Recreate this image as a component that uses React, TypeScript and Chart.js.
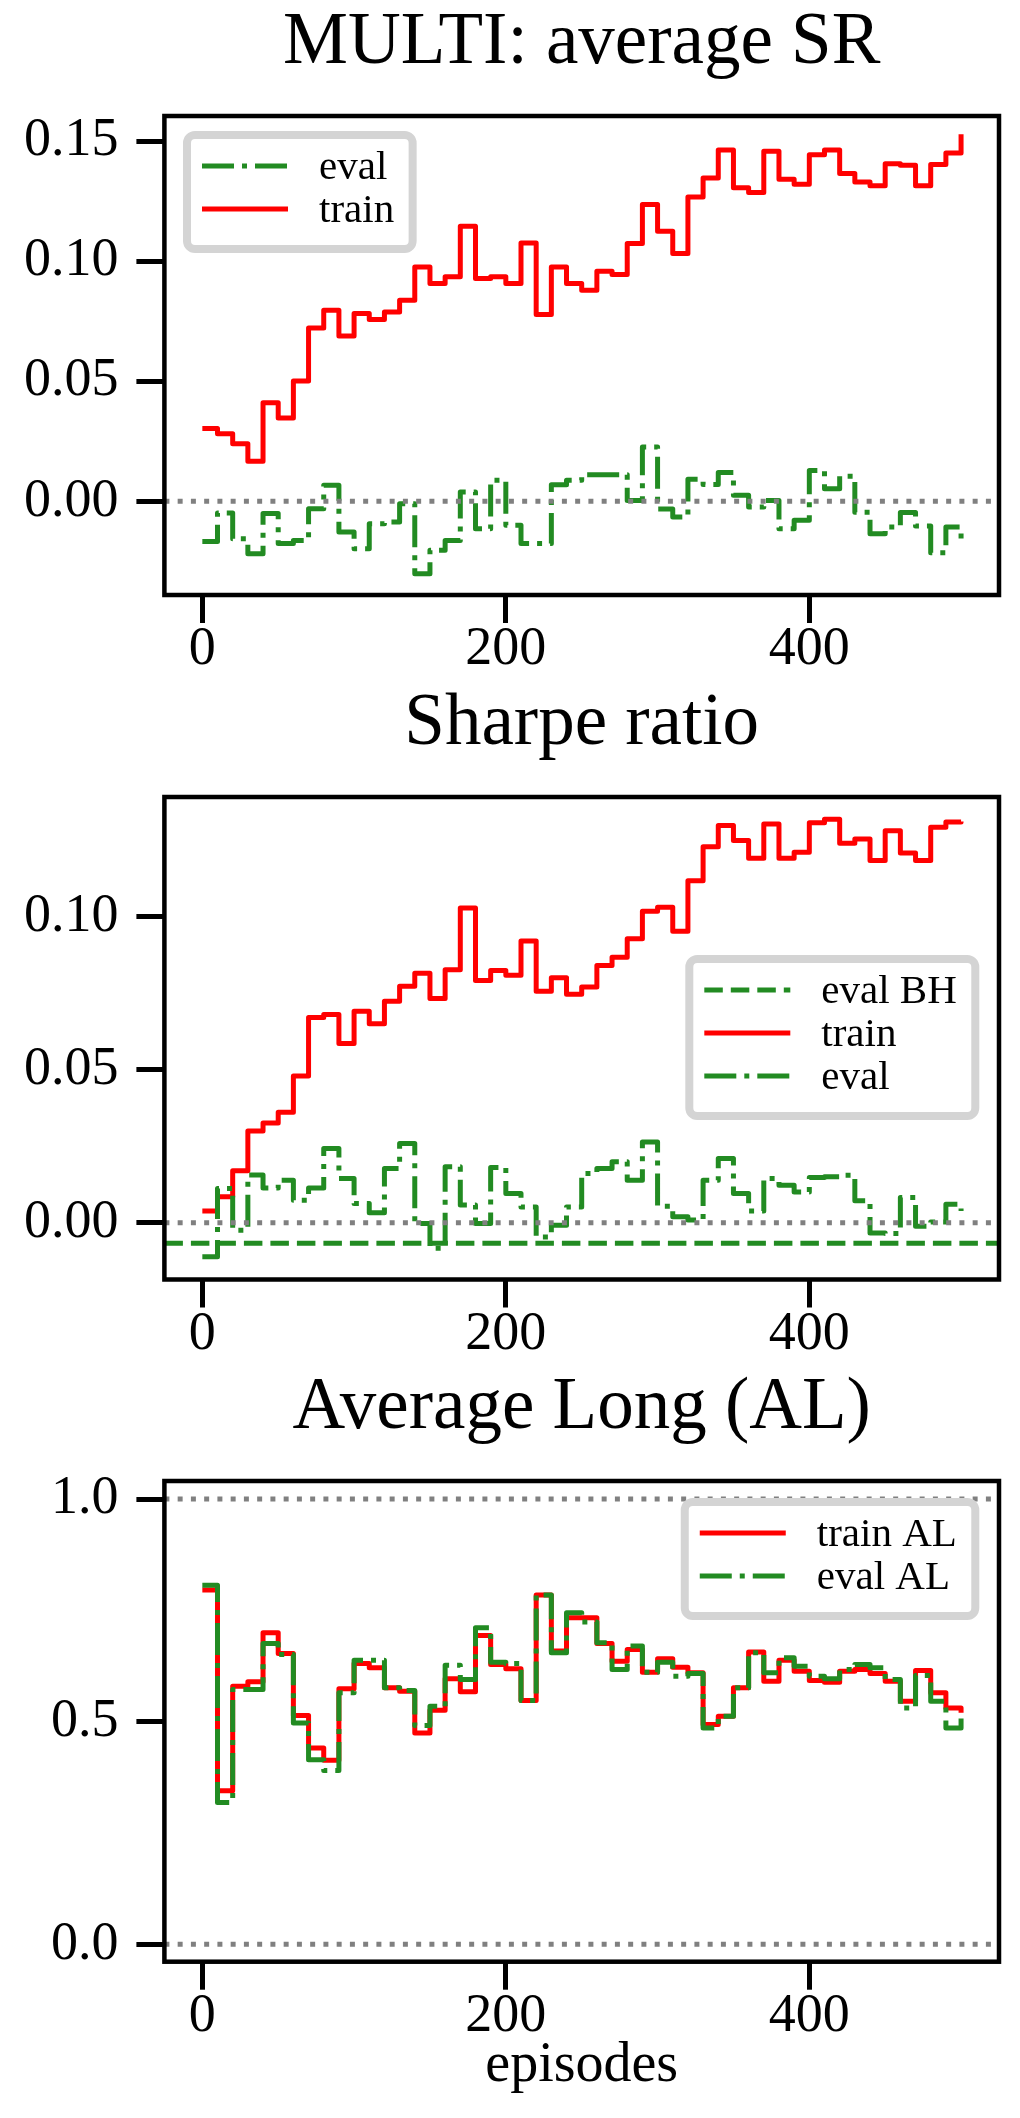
import React, { useEffect, useRef } from "react";
import { Chart, registerables } from "chart.js";

Chart.register(...registerables);

// ---------------- data ----------------
const EPISODES = [
  0, 10, 20, 30, 40, 50, 60, 70, 80, 90, 100, 110, 120, 130, 140, 150, 160, 170, 180, 190, 200,
  210, 220, 230, 240, 250, 260, 270, 280, 290, 300, 310, 320, 330, 340, 350, 360, 370, 380, 390,
  400, 410, 420, 430, 440, 450, 460, 470, 480, 490, 500,
];
const X_LIMITS = [-25, 525];
const X_TICKS = [0, 200, 400];
const X_TICK_LABELS = ["0", "200", "400"];

const TITLE_1 = "MULTI: average SR";
const TITLE_2 = "Sharpe ratio";
const TITLE_3 = "Average Long (AL)";
const X_TITLE_3 = "episodes";

const Y_TICKS_1 = [0, 0.05, 0.1, 0.15];
const Y_LABELS_1 = ["0.00", "0.05", "0.10", "0.15"];
const Y_TICKS_2 = [0, 0.05, 0.1];
const Y_LABELS_2 = ["0.00", "0.05", "0.10"];
const Y_TICKS_3 = [0, 0.5, 1.0];
const Y_LABELS_3 = ["0.0", "0.5", "1.0"];

const P1_TRAIN = [
  0.0303, 0.0282, 0.024, 0.0167, 0.0411, 0.0347, 0.0501, 0.0722, 0.0796, 0.0689, 0.0782, 0.0757,
  0.0789, 0.0838, 0.0976, 0.0907, 0.0935, 0.1146, 0.0928, 0.0935, 0.0907, 0.1076, 0.0778, 0.0976,
  0.0907, 0.0879, 0.0958, 0.0945, 0.1074, 0.1236, 0.1125, 0.1032, 0.1268, 0.1347, 0.1463, 0.1306,
  0.1286, 0.1458, 0.1342, 0.1321, 0.1444, 0.1463, 0.1365, 0.133, 0.1315, 0.1406, 0.14, 0.1315,
  0.1403, 0.1451, 0.1529,
];
const P1_EVAL = [
  -0.0167, -0.0048, -0.0156, -0.0218, -0.0051, -0.0176, -0.0163, -0.0031, 0.0067, -0.0128, -0.0197,
  -0.0093, -0.0086, -0.001, -0.0301, -0.0204, -0.0163, 0.0039, -0.0114, 0.0088, -0.01, -0.0176,
  -0.0176, 0.0069, 0.0088, 0.0111, 0.0111, 0.0111, 0.0004, 0.0226, -0.0032, -0.0065, 0.0092, 0.007,
  0.012, 0.0025, -0.0024, 0.0004, -0.0114, -0.0079, 0.0129, 0.0053, 0.0105, -0.0045, -0.0135,
  -0.0107, -0.0046, -0.0103, -0.0214, -0.0107, -0.0156,
];

const P2_TRAIN = [
  0.0039, 0.0085, 0.017, 0.03, 0.0326, 0.0361, 0.0479, 0.067, 0.068, 0.0585, 0.0691, 0.065, 0.0723,
  0.0772, 0.0815, 0.0732, 0.0826, 0.1028, 0.0791, 0.0824, 0.0808, 0.092, 0.0756, 0.08, 0.0746,
  0.077, 0.084, 0.0867, 0.0927, 0.1017, 0.103, 0.0952, 0.1117, 0.1228, 0.1297, 0.1248, 0.119,
  0.1302, 0.119, 0.121, 0.1306, 0.1317, 0.1239, 0.1253, 0.1183, 0.128, 0.1207, 0.1183, 0.1291,
  0.1308, 0.131,
];
const P2_EVAL = [
  -0.0111, 0.0112, -0.0024, 0.0156, 0.0114, 0.0139, 0.0074, 0.0114, 0.0243, 0.0145, 0.0063, 0.0033,
  0.0177, 0.0259, -0.0002, -0.0083, 0.0183, 0.0058, -0.0002, 0.0181, 0.0096, 0.0052, -0.0046,
  -0.0008, 0.0052, 0.0161, 0.0177, 0.0199, 0.0139, 0.0264, 0.0054, 0.002, 0.0009, 0.0139, 0.021,
  0.0096, 0.0039, 0.0145, 0.0123, 0.0101, 0.0148, 0.015, 0.0155, 0.0072, -0.0033, -0.0035, 0.0083,
  -0.0011, 0.0003, 0.0061, 0.0039,
];
const P2_EVAL_BH = -0.0067;

const P3_TRAIN = [
  0.7957, 0.345, 0.5797, 0.5895, 0.6998, 0.6532, 0.5137, 0.441, 0.4132, 0.5738, 0.6307, 0.621,
  0.576, 0.5685, 0.4748, 0.5257, 0.5963, 0.567, 0.6937, 0.6285, 0.6188, 0.5475, 0.7845, 0.6585,
  0.7335, 0.7335, 0.6758, 0.6359, 0.6623, 0.6112, 0.6412, 0.6225, 0.6097, 0.4935, 0.5123, 0.576,
  0.6563, 0.591, 0.6382, 0.6135, 0.5925, 0.5888, 0.6135, 0.6172, 0.6082, 0.591, 0.546, 0.615,
  0.5648, 0.531, 0.5198,
];
const P3_EVAL = [
  0.8063, 0.3187, 0.5722, 0.5722, 0.6757, 0.651, 0.4973, 0.4147, 0.3906, 0.5648, 0.6382, 0.6382,
  0.576, 0.57, 0.4912, 0.5347, 0.627, 0.5947, 0.711, 0.6337, 0.6307, 0.5475, 0.7845, 0.6548,
  0.7448, 0.7237, 0.6773, 0.6172, 0.6698, 0.6112, 0.6337, 0.6022, 0.6082, 0.486, 0.5123, 0.576,
  0.6548, 0.6097, 0.6435, 0.6247, 0.6022, 0.5963, 0.6172, 0.6285, 0.621, 0.5948, 0.531, 0.6037,
  0.546, 0.486, 0.5123,
];
const P3_HLINES = [0, 1];

// ---------------- styles ----------------
const FONT = '"Liberation Serif", "Times New Roman", serif';
const RED = "#ff0000";
const GREEN = "#228b22";
const GRAY = "#808080";
const DASHDOT = [32, 8, 5, 8];
const DASHED = [18.5, 8];
const DOTTED = [5, 8.25];
const LW = 5;

const steps = (vals: number[]) => EPISODES.map((x, i) => ({ x, y: vals[i] }));
const hline = (v: number) => X_LIMITS.map((x) => ({ x, y: v }));

const lineDs = (label: string, data: any[], color: string, dash: number[], order: number, stepped: any) => ({
  label,
  data,
  borderColor: color,
  backgroundColor: color,
  borderWidth: LW,
  borderDash: dash,
  borderCapStyle: "butt",
  borderJoinStyle: "round",
  pointRadius: 0,
  pointHoverRadius: 0,
  fill: false,
  tension: 0,
  stepped,
  order,
});

const PANELS = [
  {
    top: 0,
    height: 681,
    xAxisH: 86,
    title: TITLE_1,
    xTitle: "",
    yMin: -0.039,
    yMax: 0.1605,
    yTicks: Y_TICKS_1,
    yLabels: Y_LABELS_1,
    datasets: [
      lineDs("eval", steps(P1_EVAL), GREEN, DASHDOT, 2, "before"),
      lineDs("train", steps(P1_TRAIN), RED, [], 1, "before"),
      lineDs("zero", hline(0), GRAY, DOTTED, 0, false),
    ],
    legend: { labels: ["eval", "train"], anchor: "left", dx: 18.6, dy: 15 },
  },
  {
    top: 681,
    height: 684,
    xAxisH: 85.5,
    title: TITLE_2,
    xTitle: "",
    yMin: -0.0185,
    yMax: 0.139,
    yTicks: Y_TICKS_2,
    yLabels: Y_LABELS_2,
    datasets: [
      lineDs("eval BH", hline(P2_EVAL_BH), GREEN, DASHED, 3, false),
      lineDs("train", steps(P2_TRAIN), RED, [], 2, "before"),
      lineDs("eval", steps(P2_EVAL), GREEN, DASHDOT, 1, "before"),
      lineDs("zero", hline(0), GRAY, DOTTED, 0, false),
    ],
    legend: { labels: ["eval BH", "train", "eval"], anchor: "right", dx: 19.7, dy: 158 },
  },
  {
    top: 1365,
    height: 753,
    xAxisH: 156.3,
    title: TITLE_3,
    xTitle: X_TITLE_3,
    yMin: -0.039,
    yMax: 1.0405,
    yTicks: Y_TICKS_3,
    yLabels: Y_LABELS_3,
    datasets: [
      lineDs("train AL", steps(P3_TRAIN), RED, [], 2, "before"),
      lineDs("eval AL", steps(P3_EVAL), GREEN, DASHDOT, 1, "before"),
      lineDs("zero", hline(P3_HLINES[0]), GRAY, DOTTED, 0, false),
      lineDs("one", hline(P3_HLINES[1]), GRAY, DOTTED, 0, false),
    ],
    legend: { labels: ["train AL", "eval AL"], anchor: "right", dx: 19.7, dy: 17 },
  },
];

// ---------------- plugin: axes frame + legend box ----------------
const frameLegendPlugin = {
  id: "frameLegend",
  afterDatasetsDraw(chart: any, _args: any, opts: any) {
    const { ctx, chartArea: a } = chart;
    ctx.save();
    ctx.setLineDash([]);
    ctx.strokeStyle = "#000000";
    ctx.lineWidth = 4.5;
    ctx.strokeRect(a.left, a.top, a.right - a.left, a.bottom - a.top);

    const labels: string[] = opts.labels || [];
    if (labels.length) {
      const items = labels.map((lab) => {
        const ds = chart.data.datasets.find((d: any) => d.label === lab);
        return { label: lab, color: ds.borderColor, dash: ds.borderDash || [] };
      });
      ctx.font = `41px ${FONT}`;
      const textW = Math.max(...items.map((it) => ctx.measureText(it.label).width));
      const w = 136 + textW + 22.5;
      const h = 48.3 + 43 * (items.length - 1) + 30.7;
      const x = opts.anchor === "left" ? a.left + opts.dx : a.right - opts.dx - w;
      const y = a.top + opts.dy;
      ctx.beginPath();
      ctx.roundRect(x + 4, y + 4, w - 8, h - 8, 8);
      ctx.fillStyle = "#ffffff";
      ctx.fill();
      ctx.lineWidth = 8;
      ctx.strokeStyle = "#d4d4d4";
      ctx.stroke();
      items.forEach((it, i) => {
        const base = y + 48.3 + 43 * i;
        ctx.beginPath();
        ctx.setLineDash(it.dash);
        ctx.lineWidth = LW;
        ctx.lineCap = "butt";
        ctx.strokeStyle = it.color;
        ctx.moveTo(x + 19, base - 13.3);
        ctx.lineTo(x + 105, base - 13.3);
        ctx.stroke();
        ctx.setLineDash([]);
        ctx.fillStyle = "#000000";
        ctx.textAlign = "left";
        ctx.textBaseline = "alphabetic";
        ctx.fillText(it.label, x + 136, base);
      });
    }
    ctx.restore();
  },
};

function makeConfig(p: any): any {
  return {
    type: "line",
    data: { datasets: p.datasets },
    plugins: [frameLegendPlugin],
    options: {
      responsive: false,
      maintainAspectRatio: false,
      animation: false,
      events: [],
      layout: { padding: { left: 0, right: 21, top: 0, bottom: 0 } },
      plugins: {
        legend: { display: false },
        tooltip: { enabled: false },
        title: {
          display: true,
          text: p.title,
          color: "#000000",
          fullSize: false,
          font: { family: FONT, size: 73, weight: "normal", lineHeight: 1 },
          padding: { top: 7, bottom: 36 },
        },
        frameLegend: p.legend,
      },
      scales: {
        x: {
          type: "linear",
          min: X_LIMITS[0],
          max: X_LIMITS[1],
          afterBuildTicks: (s: any) => {
            s.ticks = X_TICKS.map((v) => ({ value: v }));
          },
          afterFit: (s: any) => {
            s.height = p.xAxisH;
          },
          ticks: {
            callback: (_v: any, i: number) => X_TICK_LABELS[i],
            color: "#000000",
            font: { family: FONT, size: 54, lineHeight: 1 },
            padding: 0,
            maxRotation: 0,
            autoSkip: false,
          },
          grid: {
            drawOnChartArea: false,
            drawTicks: true,
            tickLength: 28,
            tickWidth: 5,
            tickColor: "#000000",
          },
          border: { display: false },
          title: {
            display: !!p.xTitle,
            text: p.xTitle,
            color: "#000000",
            font: { family: FONT, size: 56, lineHeight: 1 },
            padding: { top: 0, bottom: 24 },
          },
        },
        y: {
          type: "linear",
          min: p.yMin,
          max: p.yMax,
          afterBuildTicks: (s: any) => {
            s.ticks = p.yTicks.map((v: number) => ({ value: v }));
          },
          afterFit: (s: any) => {
            s.width = 164.4;
          },
          ticks: {
            callback: (_v: any, i: number) => p.yLabels[i],
            color: "#000000",
            font: { family: FONT, size: 54, lineHeight: 1 },
            padding: 18,
            autoSkip: false,
          },
          grid: {
            drawOnChartArea: false,
            drawTicks: true,
            tickLength: 28,
            tickWidth: 5,
            tickColor: "#000000",
          },
          border: { display: false },
        },
      },
    },
  };
}

function Panel({ p }: { p: any }) {
  const ref = useRef<HTMLCanvasElement>(null);
  useEffect(() => {
    if (!ref.current) return;
    const chart = new Chart(ref.current, makeConfig(p));
    return () => chart.destroy();
  }, []);
  return (
    <canvas
      ref={ref}
      width={1020}
      height={p.height}
      style={{ position: "absolute", left: 0, top: p.top, width: 1020, height: p.height, display: "block" }}
    />
  );
}

export default function App() {
  return (
    <div style={{ position: "absolute", left: 0, top: 0, width: 1020, height: 2118, background: "#ffffff", overflow: "hidden" }}>
      {PANELS.map((p, i) => (
        <Panel key={i} p={p} />
      ))}
    </div>
  );
}
